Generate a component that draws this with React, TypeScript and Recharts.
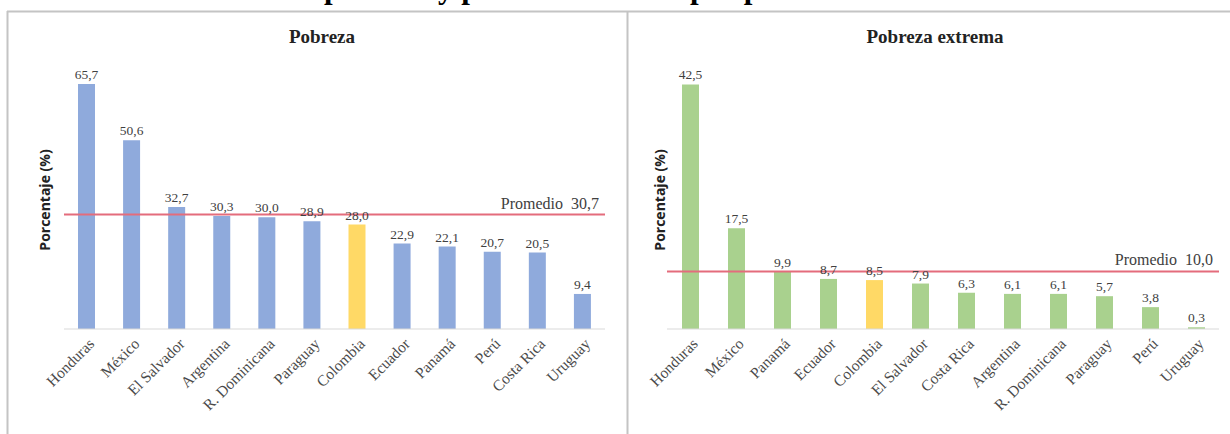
import { BarChart, Bar, XAxis, YAxis, Cell, LabelList, ReferenceLine, Label } from "recharts";

// ─── Data ─────────────────────────────────────────────────────────────────────

const pobrezaPaises = [
  "Honduras", "México", "El Salvador", "Argentina", "R. Dominicana", "Paraguay",
  "Colombia", "Ecuador", "Panamá", "Perú", "Costa Rica", "Uruguay",
];
const pobrezaValores = [65.7, 50.6, 32.7, 30.3, 30.0, 28.9, 28.0, 22.9, 22.1, 20.7, 20.5, 9.4];
const pobrezaPromedio = 30.7;

const extremaPaises = [
  "Honduras", "México", "Panamá", "Ecuador", "Colombia", "El Salvador",
  "Costa Rica", "Argentina", "R. Dominicana", "Paraguay", "Perú", "Uruguay",
];
const extremaValores = [42.5, 17.5, 9.9, 8.7, 8.5, 7.9, 6.3, 6.1, 6.1, 5.7, 3.8, 0.3];
const extremaPromedio = 10.0;

const destacado = "Colombia";

// ─── Helpers ──────────────────────────────────────────────────────────────────

const SERIF = "'Liberation Serif', 'Times New Roman', serif";
const SANS = "'Open Sans', 'Liberation Sans', Arial, sans-serif";
const BORDER = "#c4c4c4";

const fmt = (v: number) => v.toFixed(1).replace(".", ",");

function AngledTick({ x, y, payload }: { x?: number; y?: number; payload?: { value: string } }) {
  return (
    <g transform={`translate(${(x ?? 0) + 5},${(y ?? 0) + 4})`}>
      <text
        x={0}
        y={0}
        dy="0.35em"
        transform="rotate(-45)"
        textAnchor="end"
        fontFamily={SERIF}
        fontSize={15.5}
        fill="#4a4a4a"
      >
        {payload?.value}
      </text>
    </g>
  );
}

interface PanelProps {
  paises: string[];
  valores: number[];
  promedio: number;
  color: string;
  width: number;
  height: number;
  margin: { top: number; right: number; left: number; bottom: number };
  axisHeight: number;
  yMax: number;
}

function Panel({ paises, valores, promedio, color, width, height, margin, axisHeight, yMax }: PanelProps) {
  const rows = paises.map((p, i) => ({ pais: p, valor: valores[i] }));
  return (
    <BarChart width={width} height={height} data={rows} margin={margin} barCategoryGap={0}>
      <XAxis
        dataKey="pais"
        interval={0}
        tick={<AngledTick />}
        tickLine={false}
        axisLine={{ stroke: "#d9d9d9", strokeWidth: 1 }}
        height={axisHeight}
      />
      <YAxis hide domain={[0, yMax]} />
      <Bar dataKey="valor" barSize={17} isAnimationActive={false}>
        {rows.map((r) => (
          <Cell key={r.pais} fill={r.pais === destacado ? "#ffd966" : color} />
        ))}
        <LabelList
          dataKey="valor"
          position="top"
          offset={5}
          formatter={(v: number) => fmt(v)}
          style={{ fontFamily: SERIF, fontSize: 13.5, fill: "#404040" }}
        />
      </Bar>
      <ReferenceLine y={promedio} stroke="#e46c7c" strokeWidth={2} ifOverflow="extendDomain">
        <Label
          value={`Promedio\u00a0\u00a0${fmt(promedio)}`}
          position="insideBottomRight"
          offset={6}
          style={{ fontFamily: SERIF, fontSize: 16, fill: "#404040" }}
        />
      </ReferenceLine>
    </BarChart>
  );
}

// ─── App ──────────────────────────────────────────────────────────────────────

export default function App() {
  return (
    <div style={{ position: "absolute", left: 0, top: 0, width: 1230, height: 434, overflow: "hidden", background: "#fff" }}>
      {/* left panel */}
      <div style={{ position: "absolute", left: 7, top: 12 }}>
        <Panel
          paises={pobrezaPaises}
          valores={pobrezaValores}
          promedio={pobrezaPromedio}
          color="#8faadc"
          width={620}
          height={422}
          margin={{ top: 56, right: 22, left: 57, bottom: 0 }}
          axisHeight={105}
          yMax={70}
        />
      </div>
      {/* right panel */}
      <div style={{ position: "absolute", left: 627, top: 12 }}>
        <Panel
          paises={extremaPaises}
          valores={extremaValores}
          promedio={extremaPromedio}
          color="#a9d18e"
          width={603}
          height={422}
          margin={{ top: 58, right: 11, left: 40, bottom: 0 }}
          axisHeight={105}
          yMax={45}
        />
      </div>

      {/* frame, titles and axis labels */}
      <svg width={1230} height={434} style={{ position: "absolute", left: 0, top: 0, pointerEvents: "none" }}>
        <g fontFamily={SERIF} fontWeight="bold" fontSize={31} fill="#000">
          <text x={318} y={-2} textAnchor="end">Incidencia de la</text>
          <text x={324} y={-2}>pobreza y pobreza extrema</text>
          <text x={690} y={-2}>por país</text>
        </g>
        <line x1={7} y1={11.5} x2={1230} y2={11.5} stroke={BORDER} strokeWidth={2} />
        <line x1={7.5} y1={11} x2={7.5} y2={434} stroke={BORDER} strokeWidth={2} />
        <line x1={627.5} y1={11} x2={627.5} y2={434} stroke={BORDER} strokeWidth={2} />

        <text x={322} y={43} textAnchor="middle" fontFamily={SERIF} fontWeight="bold" fontSize={19} fill="#222">
          Pobreza
        </text>
        <text x={935} y={43} textAnchor="middle" fontFamily={SERIF} fontWeight="bold" fontSize={19} fill="#222">
          Pobreza extrema
        </text>

        <text
          transform="translate(50,200) rotate(-90)"
          textAnchor="middle"
          fontFamily={SANS}
          fontWeight="bold"
          fontSize={14}
          fill="#222"
        >
          Porcentaje (%)
        </text>
        <text
          transform="translate(665,200) rotate(-90)"
          textAnchor="middle"
          fontFamily={SANS}
          fontWeight="bold"
          fontSize={14}
          fill="#222"
        >
          Porcentaje (%)
        </text>
      </svg>
    </div>
  );
}
